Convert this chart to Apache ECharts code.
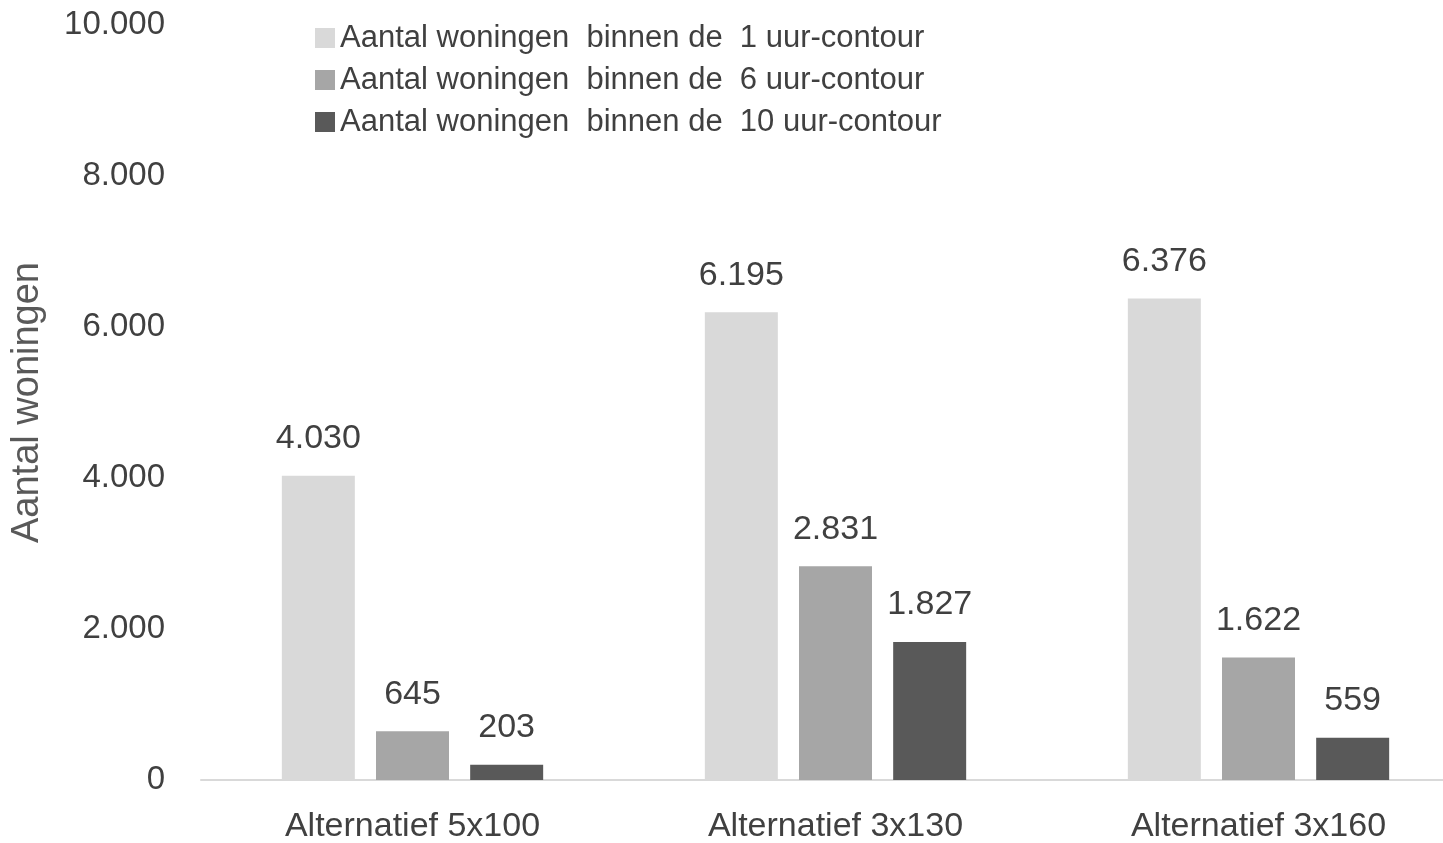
<!DOCTYPE html>
<html>
<head>
<meta charset="utf-8">
<script src="https://cdn.jsdelivr.net/npm/echarts@6/dist/echarts.min.js"></script>
<style>
  html, body { margin: 0; padding: 0; background: #fff; }
  #chart { width: 1443px; height: 843px; }
</style>
</head>
<body>
<div id="chart"></div>
<script>
// data
var categories = ['Alternatief 5x100', 'Alternatief 3x130', 'Alternatief 3x160']
var seriesNames = [
  'Aantal woningen  binnen de  1 uur-contour',
  'Aantal woningen  binnen de  6 uur-contour',
  'Aantal woningen  binnen de  10 uur-contour'
]
var uur1 = [4030, 6195, 6376]
var uur6 = [645, 2831, 1622]
var uur10 = [203, 1827, 559]
var colors = ['#d9d9d9', '#a6a6a6', '#595959']

var font = 'Liberation Sans'

function fmt(v) {
  return String(v).replace(/\B(?=(\d{3})+(?!\d))/g, '.')
}

var chart = echarts.init(document.getElementById('chart'))

function barSeries(name, data, i) {
  return {
    name: name,
    type: 'bar',
    data: data,
    barWidth: 73,
    barGap: '29%',
    itemStyle: { color: colors[i] },
    label: {
      show: true,
      position: 'top',
      distance: 20,
      color: '#404040',
      fontFamily: font,
      fontSize: 34,
      formatter: function (p) { return fmt(p.value) }
    }
  }
}

var option = {
  animation: false,
  color: colors,
  // the chart is cut off on the right, so the plot runs past the page edge
  grid: {
    left: 201, width: 1269, top: 25, bottom: 63,
    containLabel: false, outerBoundsMode: 'none'
  },
  legend: {
    orient: 'vertical',
    left: 310,
    top: 17,
    itemWidth: 20,
    itemHeight: 20,
    itemGap: 10,
    icon: 'rect',
    textStyle: { color: '#404040', fontFamily: font, fontSize: 31, lineHeight: 32 },
    data: seriesNames
  },
  xAxis: {
    type: 'category',
    data: categories,
    axisLine: { lineStyle: { color: '#d9d9d9', width: 2 } },
    axisTick: { show: false },
    axisLabel: { color: '#404040', fontFamily: font, fontSize: 34, margin: 30 }
  },
  yAxis: {
    type: 'value',
    min: 0,
    max: 10000,
    interval: 2000,
    name: 'Aantal woningen',
    nameLocation: 'middle',
    nameGap: 154,
    nameTextStyle: { color: '#595959', fontFamily: font, fontSize: 38 },
    splitLine: { show: false },
    axisLine: { show: false },
    axisTick: { show: false },
    axisLabel: {
      color: '#404040',
      fontFamily: font,
      fontSize: 33,
      margin: 36,
      formatter: function (v) { return fmt(v) }
    }
  },
  series: [
    barSeries(seriesNames[0], uur1, 0),
    barSeries(seriesNames[1], uur6, 1),
    barSeries(seriesNames[2], uur10, 2)
  ]
}

chart.setOption(option)
</script>
</body>
</html>
